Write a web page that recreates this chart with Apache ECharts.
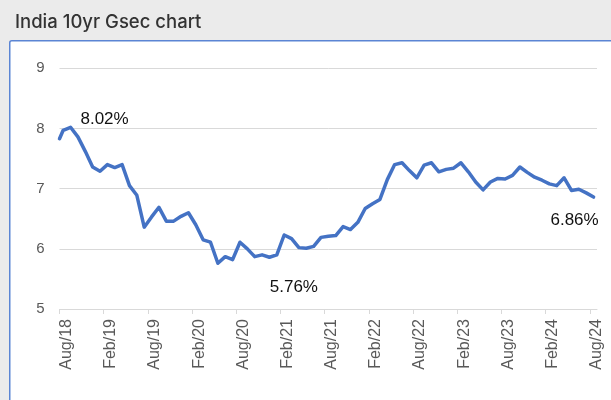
<!DOCTYPE html>
<html>
<head>
<meta charset="utf-8">
<title>India 10yr Gsec chart</title>
<script src="https://cdn.jsdelivr.net/npm/echarts@6/dist/echarts.min.js"></script>
<style>
  html, body { margin: 0; padding: 0; background: #ebebeb; }
  #main { width: 611px; height: 400px; }
</style>
</head>
<body>
<div id="main"></div>
<script>
// observation dates (first point is the start of Aug 2018, then mid-month readings)
var dates = [
  '2018-08-01',
  '2018-08-16', '2018-09-16', '2018-10-16', '2018-11-16', '2018-12-16',
  '2019-01-16', '2019-02-16', '2019-03-16', '2019-04-16', '2019-05-16', '2019-06-16',
  '2019-07-16', '2019-08-16', '2019-09-16', '2019-10-16', '2019-11-16', '2019-12-16',
  '2020-01-16', '2020-02-16', '2020-03-16', '2020-04-16', '2020-05-16', '2020-06-16',
  '2020-07-16', '2020-08-16', '2020-09-16', '2020-10-16', '2020-11-16', '2020-12-16',
  '2021-01-16', '2021-02-16', '2021-03-16', '2021-04-16', '2021-05-16', '2021-06-16',
  '2021-07-16', '2021-08-16', '2021-09-16', '2021-10-16', '2021-11-16', '2021-12-16',
  '2022-01-16', '2022-02-16', '2022-03-16', '2022-04-16', '2022-05-16', '2022-06-16',
  '2022-07-16', '2022-08-16', '2022-09-16', '2022-10-16', '2022-11-16', '2022-12-16',
  '2023-01-16', '2023-02-16', '2023-03-16', '2023-04-16', '2023-05-16', '2023-06-16',
  '2023-07-16', '2023-08-16', '2023-09-16', '2023-10-16', '2023-11-16', '2023-12-16',
  '2024-01-16', '2024-02-16', '2024-03-16', '2024-04-16', '2024-05-16', '2024-06-16',
  '2024-07-16', '2024-08-16'
];

// 10yr Gsec yield, %
var yields = [
  7.83,
  7.97, 8.02, 7.86, 7.62, 7.36,
  7.29, 7.40, 7.35, 7.40, 7.05, 6.89,
  6.36, 6.53, 6.69, 6.46, 6.46, 6.54,
  6.60, 6.40, 6.15, 6.11, 5.76, 5.87,
  5.82, 6.11, 6.00, 5.87, 5.90, 5.86,
  5.90, 6.23, 6.17, 6.02, 6.01, 6.04,
  6.19, 6.21, 6.22, 6.37, 6.32, 6.44,
  6.67, 6.75, 6.82, 7.15, 7.40, 7.43,
  7.30, 7.18, 7.39, 7.43, 7.28, 7.32,
  7.34, 7.43, 7.28, 7.11, 6.98, 7.11,
  7.17, 7.16, 7.22, 7.36, 7.27, 7.19,
  7.14, 7.08, 7.05, 7.18, 6.97, 6.99,
  6.93, 6.86
];

var tickDates = ['2018-08-01', '2019-02-01', '2019-08-01', '2020-02-01', '2020-08-01', '2021-02-01',
  '2021-08-01', '2022-02-01', '2022-08-01', '2023-02-01', '2023-08-01', '2024-02-01', '2024-08-01'];
var tickLabels = ['Aug/18', 'Feb/19', 'Aug/19', 'Feb/20', 'Aug/20', 'Feb/21',
  'Aug/21', 'Feb/22', 'Aug/22', 'Feb/23', 'Aug/23', 'Feb/24', 'Aug/24'];
var axisEnd = '2024-08-30';

// points that get a value callout
var calloutIdx = [2, 22, 73];

// months since Aug 2018
function monthPos(s) {
  var p = s.split('-');
  return (+p[0] - 2018) * 12 + (+p[1] - 8) + (+p[2] - 1) / 30;
}

var seriesData = dates.map(function (d, i) { return [monthPos(d), yields[i]]; });
var tickPos = tickDates.map(monthPos);

var calloutOffsets = [[34, -8], [76, 24], [-19, 23]];
var callouts = calloutIdx.map(function (idx, j) {
  return {
    coord: seriesData[idx],
    value: yields[idx].toFixed(2) + '%',
    label: { offset: calloutOffsets[j] }
  };
});

var myChart = echarts.init(document.getElementById('main'));
var option = {
  backgroundColor: '#ebebeb',
  animation: false,
  title: {
    text: 'India 10yr Gsec chart',
    left: 10,
    top: 8,
    textStyle: { fontFamily: 'Inter', fontSize: 18.5, fontWeight: 500, color: '#333333' }
  },
  graphic: [{
    type: 'rect',
    left: 9, top: 40, z: -10,
    shape: { width: 700, height: 500, r: 2 },
    style: { fill: '#ffffff', stroke: '#5b85d4', lineWidth: 1.5 }
  }],
  grid: { left: 59.5, right: 14, top: 68.3, bottom: 91 },
  xAxis: {
    type: 'value',
    min: 0,
    max: monthPos(axisEnd),
    splitLine: { show: false },
    axisLine: { lineStyle: { color: '#d9d9d9', width: 1 } },
    axisTick: { customValues: tickPos, length: 5, lineStyle: { color: '#d9d9d9' } },
    axisLabel: {
      customValues: tickPos,
      rotate: 90,
      margin: 10,
      verticalAlign: 'top',
      lineHeight: 14,
      fontFamily: 'Liberation Sans',
      fontSize: 16,
      color: '#595959',
      formatter: function (v) {
        var i = tickPos.findIndex(function (t) { return Math.abs(t - v) < 0.01; });
        return i >= 0 ? tickLabels[i] : '';
      }
    }
  },
  yAxis: {
    type: 'value',
    min: 5,
    max: 9,
    interval: 1,
    axisLine: { show: false },
    axisTick: { show: false },
    axisLabel: { margin: 15, fontFamily: 'Liberation Sans', fontSize: 15, color: '#595959' },
    splitLine: { lineStyle: { color: '#d9d9d9', width: 1 } }
  },
  series: [{
    type: 'line',
    data: seriesData,
    showSymbol: false,
    symbol: 'none',
    lineStyle: { color: '#4472c4', width: 3.5, join: 'round', cap: 'round' },
    markPoint: {
      symbol: 'circle',
      symbolSize: 0,
      label: {
        show: true,
        position: 'inside',
        fontFamily: 'Liberation Sans',
        fontSize: 17,
        color: '#111111',
        formatter: function (p) { return p.value; }
      },
      data: callouts
    }
  }]
};
myChart.setOption(option);
</script>
</body>
</html>
